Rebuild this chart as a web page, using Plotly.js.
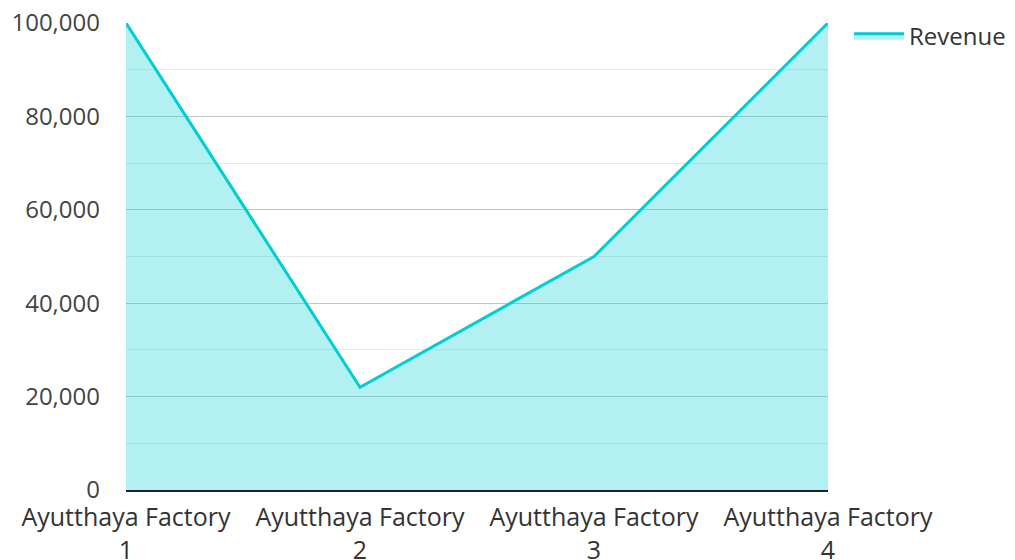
<!DOCTYPE html>
<html><head><meta charset="utf-8">
<script src="https://cdn.plot.ly/plotly-3.0.1.min.js"></script>
<style>body{margin:0}#chart{width:1015px;height:560px}</style>
</head><body><div id="chart"></div>
<script>
const categories = ["Ayutthaya Factory<br>1","Ayutthaya Factory<br>2","Ayutthaya Factory<br>3","Ayutthaya Factory<br>4"];
const revenue = [100000, 22000, 50000, 100000];
const yTicks = [0, 20000, 40000, 60000, 80000, 100000];
const yTickLabels = ["0","20,000","40,000","60,000","80,000","100,000"];

Plotly.newPlot('chart', [{
  x: categories, y: revenue, type: 'scatter', mode: 'lines', name: 'Revenue',
  fill: 'tozeroy', fillcolor: 'rgba(0,206,209,0.3)',
  line: {color: '#00CED1', width: 3}
}], {
  width: 1015, height: 560,
  margin: {l: 126, r: 187, t: 23, b: 70, autoexpand: false},
  font: {family: 'Open Sans', size: 24, color: '#444'},
  paper_bgcolor: '#fff', plot_bgcolor: '#fff',
  showlegend: true,
  legend: {x: 1.03, y: 1.02, xanchor: 'left', yanchor: 'top', itemwidth: 50, font: {size: 24, color: '#333'}},
  xaxis: {type: 'category', range: [0, 3], showgrid: false, showline: true, linecolor: '#222', linewidth: 2,
          ticks: '', tickfont: {size: 25, color: '#333'}, ticklabelstandoff: 4, automargin: false, zeroline: false},
  yaxis: {range: [0, 100000], tickvals: yTicks, ticktext: yTickLabels, showgrid: true, gridcolor: '#c4c4c4', gridwidth: 1,
          zeroline: false, ticks: '', tickfont: {size: 24, color: '#444'}, ticklabelstandoff: 25,
          minor: {dtick: 10000, showgrid: true, gridcolor: '#e8e8e8', gridwidth: 1}, automargin: false}
}, {displayModeBar: false});
</script></body></html>
